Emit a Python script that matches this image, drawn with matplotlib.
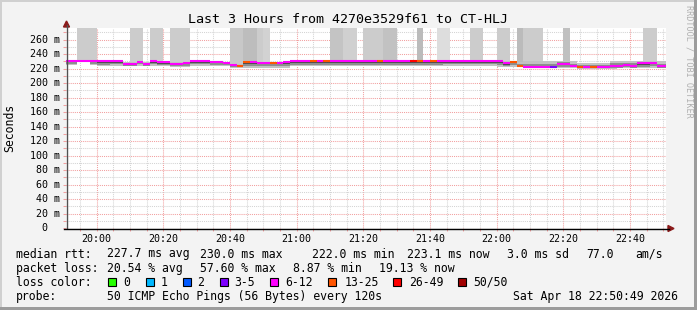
import matplotlib
matplotlib.use("Agg")
import matplotlib.pyplot as plt
from matplotlib.patches import Rectangle, Polygon
from matplotlib.lines import Line2D
from matplotlib.transforms import Affine2D

# time axis in minutes after 19:00, one step every 2 minutes
start_min = 50.817
end_min = 230.817
steps = list(range(50, 231, 2))

median = [230.0, 230.0, 230.0, 230.0, 230.0, 230.0, 230.0, 230.0, 230.0, 226.8,
          226.8, 229.6, 226.8, 230.0, 228.6, 228.6, 226.4, 226.4, 227.5, 230.0,
          230.0, 230.0, 229.2, 229.2, 227.8, 224.5, 223.1, 229.2, 229.2, 227.8,
          227.8, 227.8, 227.8, 229.0, 230.0, 230.0, 230.0, 230.0, 230.0, 230.0,
          230.0, 230.0, 230.0, 230.0, 230.0, 230.0, 230.0, 230.0, 230.0, 230.0,
          230.0, 230.0, 230.0, 230.0, 230.0, 230.0, 230.0, 230.0, 230.0, 230.0,
          230.0, 230.0, 230.0, 230.0, 230.0, 230.0, 227.2, 229.6, 224.0, 222.0,
          222.0, 222.0, 222.0, 222.0, 226.4, 226.4, 223.1, 222.0, 222.0, 222.0,
          222.0, 222.0, 223.6, 223.6, 224.5, 223.6, 227.2, 227.2, 228.2, 223.1,
          223.1]

loss = ["6-12"] * 26 + ["13-25", "13-25"] + ["6-12"] * 3 + ["13-25"] + ["6-12"] * 5 + \
       ["13-25", "6-12", "13-25"] + ["6-12"] * 7 + ["13-25"] + ["6-12"] * 4 + \
       ["26-49", "13-25", "6-12", "13-25"] + ["6-12"] * 11 + ["13-25", "13-25"] + \
       ["6-12"] * 4 + ["3-5"] + ["6-12"] * 3 + ["13-25", "6-12", "13-25"] + ["6-12"] * 11

smoke_lo = [225.4, 225.4, 229.0, 229.0, 225.4, 223.1, 223.1, 224.0, 224.0, 223.1,
            223.1, 224.4, 223.1, 224.4, 223.1, 223.1, 222.3, 222.3, 222.3, 224.0,
            224.0, 224.0, 223.1, 223.1, 223.1, 220.9, 220.9, 221.6, 221.6, 221.6,
            221.6, 221.6, 221.6, 221.6, 223.1, 223.1, 223.1, 223.1, 223.1, 223.1,
            223.1, 223.1, 223.1, 223.1, 223.1, 223.1, 223.1, 223.1, 223.1, 223.1,
            223.1, 223.1, 223.1, 223.1, 223.1, 223.1, 223.1, 224.4, 224.4, 224.4,
            224.4, 224.4, 224.4, 224.4, 224.4, 222.0, 222.0, 222.0, 222.0, 220.5,
            220.5, 220.5, 220.5, 220.5, 220.5, 221.0, 221.0, 220.0, 220.0, 220.0,
            220.0, 220.0, 220.0, 220.5, 220.5, 220.5, 220.5, 220.5, 220.5, 220.5,
            220.5]

smoke_hi = [230.8, 230.8, 230.8, 230.8, 230.8, 230.8, 230.8, 230.8, 230.8, 229.0,
            229.0, 230.4, 229.0, 230.8, 230.0, 230.0, 228.6, 228.6, 229.0, 230.8,
            230.8, 230.8, 230.0, 230.0, 229.0, 227.0, 226.0, 230.0, 230.0, 229.0,
            229.0, 229.0, 229.0, 230.0, 232.4, 232.4, 232.4, 230.8, 230.8, 230.8,
            230.8, 230.8, 230.8, 230.8, 230.8, 230.8, 230.8, 230.8, 230.8, 230.8,
            230.8, 230.8, 230.8, 230.8, 230.8, 230.8, 232.4, 232.4, 230.8, 230.8,
            230.8, 230.8, 230.8, 230.8, 230.8, 230.8, 230.0, 230.8, 229.0, 231.0,
            231.0, 231.0, 231.0, 231.0, 231.0, 231.0, 231.0, 227.8, 227.8, 227.8,
            227.8, 227.8, 231.0, 231.0, 231.0, 231.0, 231.0, 231.0, 231.0, 231.0,
            231.0]

tall = ["", "", "#cccccc", "#cccccc", "#cccccc", "", "", "", "", "",
        "#cccccc", "#cccccc", "", "#cccccc", "#cccccc", "", "#cccccc", "#cccccc", "#cccccc", "",
        "", "", "", "", "", "#c8c8c8", "#c8c8c8", "#bdbdbd", "#bdbdbd", "#cccccc",
        "#d2d2d2", "", "", "", "", "", "", "", "", "",
        "#c4c4c4", "#c4c4c4", "#d0d0d0", "#d0d0d0", "", "#cccccc", "#cccccc", "#cccccc", "#c2c2c2", "#c2c2c2",
        "", "", "", "#bbbbbb", "", "", "#dddddd", "#dddddd", "", "",
        "", "#cccccc", "#cccccc", "", "", "#cccccc", "#cccccc", "", "#bbbbbb", "#cccccc",
        "#cccccc", "#cccccc", "", "", "", "#c0c0c0", "", "", "", "",
        "", "", "", "", "", "", "", "#cccccc", "#cccccc", "",
        ""]

loss_colors = {"0": "#26ff00", "1": "#00b8ff", "2": "#0059ff", "3-5": "#7e00ff",
               "6-12": "#ff00ff", "13-25": "#ff5500", "26-49": "#ff0000", "50/50": "#a10000"}

W, H = 697, 310
mono = "DejaVu Sans Mono"
plt.rcParams["font.family"] = mono

fig = plt.figure(figsize=(W / 100, H / 100), dpi=100)
fig.patch.set_facecolor("#f3f3f3")
px = Affine2D().scale(1 / W, -1 / H).translate(0, 1) + fig.transFigure

ax = fig.add_axes([66 / W, (H - 228) / H, 600 / W, 200 / H])
ax.set_facecolor("white")
ax.set_xlim(start_min, end_min)
ax.set_ylim(0, 276.2)
for s in ax.spines.values():
    s.set_visible(False)

# grid
ax.set_xticks(range(60, 231, 20))
ax.set_xticks(range(55, 231, 5), minor=True)
ax.set_yticks(range(0, 261, 20))
ax.set_yticks(range(10, 271, 20), minor=True)
ax.grid(which="minor", color="#d4d4d4", linestyle=(0, (1, 1)), linewidth=0.75)
ax.grid(which="major", color="#f2a0a0", linestyle=(0, (1, 1)), linewidth=0.75)
ax.set_axisbelow(True)
ax.tick_params(which="both", length=2, width=0.75, color="#f2a0a0", direction="out")
ax.tick_params(axis="y", labelleft=False)
ax.set_xticklabels(["20:00", "20:20", "20:40", "21:00", "21:20", "21:40", "22:00", "22:20", "22:40"],
                   fontsize=7.2, family=mono)
ax.tick_params(axis="x", pad=2.5, labelcolor="black")

# smoke: tall columns first
for x, med, hi, shade in zip(steps, median, smoke_hi, tall):
    if shade:
        ax.bar(x, 400 - hi, bottom=hi, width=2, align="edge", color=shade, linewidth=0, zorder=2)

for x, med, lo, hi in zip(steps, median, smoke_lo, smoke_hi):
    ax.bar(x, hi - lo, bottom=lo, width=2, align="edge", color="#c2c2c2", linewidth=0, zorder=3)
    l2, h2 = med - (med - lo) * 0.65, med + (hi - med) * 0.5
    ax.bar(x, h2 - l2, bottom=l2, width=2, align="edge", color="#8e8e8e", linewidth=0, zorder=3)
    l3, h3 = med - (med - lo) * 0.3, med + (hi - med) * 0.25
    ax.bar(x, h3 - l3, bottom=l3, width=2, align="edge", color="#4e4e4e", linewidth=0, zorder=3)

# median line, colored by loss
for x, med, ls in zip(steps, median, loss):
    ax.hlines(med, x, x + 2, colors=loss_colors[ls], linewidth=1.5, zorder=4)

# y tick labels
for v in range(0, 261, 20):
    lab = f"{v:3d} m" if v else "  0"
    ax.text(-35.5 / 600, v, lab, transform=ax.get_yaxis_transform(), fontsize=7.2,
            family=mono, ha="left", va="center")

# axis lines with arrows
fig.add_artist(Line2D([66.5, 66.5], [228, 25], transform=px, color="#505050", linewidth=1))
fig.add_artist(Polygon([[63.5, 27], [69.5, 27], [66.5, 21]], closed=True, transform=px, color="#8b1a1a"))
fig.add_artist(Line2D([64, 669], [228.5, 228.5], transform=px, color="black", linewidth=1))
fig.add_artist(Polygon([[668, 225.5], [668, 231.5], [674, 228.5]], closed=True, transform=px, color="#8b1a1a"))

# title and labels
fig.text(347.5, 19.5, "Last 3 Hours from 4270e3529f61 to CT-HLJ", transform=px, fontsize=9.6,
         ha="center", va="center")
fig.text(10, 128, "Seconds", transform=px, fontsize=8.3, rotation=90, ha="center", va="center")
fig.text(689, 61, "RRDTOOL / TOBI OETIKER", transform=px, fontsize=6.1, rotation=-90,
         ha="center", va="center", color="#b0b0b0")

# legend rows
rows = [
    (254, [("median rtt:", 16), ("227.7 ms avg", 107.3), ("230.0 ms max", 200), ("222.0 ms min", 311.7),
           ("223.1 ms now", 406.7), ("3.0 ms sd", 506.7), ("77.0", 586.7), ("am/s", 635)]),
    (268.3, [("packet loss:", 16), ("20.54 % avg", 107.3), ("57.60 % max", 200), ("8.87 % min", 293.3),
             ("19.13 % now", 379.3)]),
    (296.7, [("probe:", 16), ("50 ICMP Echo Pings (56 Bytes) every 120s", 107.3),
             ("Sat Apr 18 22:50:49 2026", 513.3)]),
]
for y, items in rows:
    for s, x in items:
        fig.text(x, y, s, transform=px, fontsize=8.3, ha="left", va="center")

fig.text(16, 282.3, "loss color:", transform=px, fontsize=8.3, ha="left", va="center")
swatches = [("0", 108.3, 123.3), ("1", 145.7, 160.3), ("2", 182.7, 197), ("3-5", 220, 234),
            ("6-12", 270, 285), ("13-25", 328.3, 345), ("26-49", 393.3, 409), ("50/50", 458.3, 473.3)]
for lab, bx, tx in swatches:
    fig.add_artist(Rectangle((bx, 278), 8, 8, transform=px, facecolor=loss_colors[lab],
                             edgecolor="black", linewidth=0.8))
    fig.text(tx, 282.3, lab, transform=px, fontsize=8.3, ha="left", va="center")

# 3d frame
fig.add_artist(Rectangle((0, 0), W, 2, transform=px, facecolor="#d0d0d0", linewidth=0))
fig.add_artist(Rectangle((0, 0), 2, H, transform=px, facecolor="#d0d0d0", linewidth=0))
fig.add_artist(Rectangle((694, 0), 3, H, transform=px, facecolor="#9c9c9c", linewidth=0))
fig.add_artist(Rectangle((0, 307), W, 3, transform=px, facecolor="#9c9c9c", linewidth=0))

fig.savefig("out.png", dpi=100, facecolor=fig.get_facecolor())
